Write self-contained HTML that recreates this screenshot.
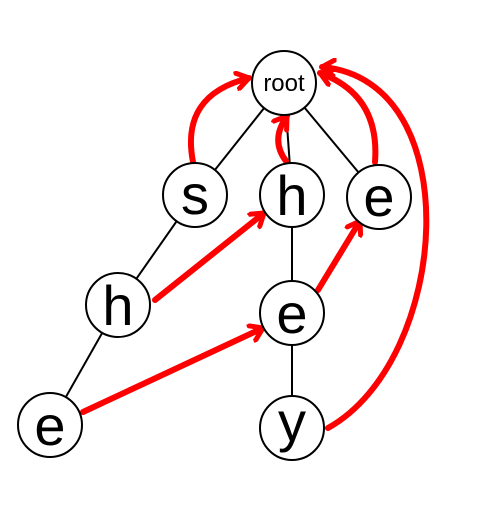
<!DOCTYPE html>
<html><head><meta charset="utf-8"><style>
html,body{margin:0;padding:0;background:#fff;}
svg{display:block}
text{font-family:"Liberation Sans",Arial,sans-serif;fill:#000}
</style></head><body>
<svg width="485" height="525" viewBox="0 0 485 525">
<defs>
<marker id="ah" viewBox="0 0 20 20" refX="14" refY="10" markerWidth="20" markerHeight="20" markerUnits="userSpaceOnUse" orient="auto">
<polyline points="2,2 14,10 2,18" fill="none" stroke="#f00" stroke-width="5" stroke-linecap="round" stroke-linejoin="round"/>
</marker>
</defs>
<g stroke="#000" stroke-width="2">
<line x1="284" y1="83" x2="195" y2="195"/>
<line x1="284" y1="83" x2="292" y2="195"/>
<line x1="284" y1="83" x2="379" y2="197"/>
<line x1="195" y1="195" x2="118" y2="305"/>
<line x1="118" y1="305" x2="50" y2="425"/>
<line x1="292" y1="195" x2="292" y2="313"/>
<line x1="292" y1="313" x2="292" y2="428"/>
</g>
<g fill="none" stroke="#f00" stroke-width="6" stroke-linecap="round" marker-end="url(#ah)">
<path d="M193,162 Q180,95 249,78"/>
<path d="M286,161 Q270,140 287,116"/>
<path d="M375,162 Q380,95 320,73"/>
<path d="M328,428 C450,360 470,80 322,67"/>
<path d="M155,300 L264,213"/>
<path d="M83,412 L263,328"/>
<path d="M318,290 L360,221"/>
</g>
<g fill="#fff" stroke="#000" stroke-width="2">
<circle cx="284" cy="83" r="32"/>
<circle cx="195" cy="195" r="32"/>
<circle cx="292" cy="195" r="32"/>
<circle cx="379" cy="197" r="32"/>
<circle cx="118" cy="305" r="32"/>
<circle cx="292" cy="313" r="32"/>
<circle cx="50" cy="425" r="32"/>
<circle cx="292" cy="428" r="32"/>
</g>
<g text-anchor="middle" font-size="56">
<text x="284" y="91" font-size="24">root</text>
<text x="195" y="214">s</text>
<text x="292" y="215">h</text>
<text x="379" y="216">e</text>
<text x="118" y="325">h</text>
<text x="292" y="333">e</text>
<text x="50" y="445">e</text>
<text x="292" y="441">y</text>
</g>
</svg>
</body></html>
